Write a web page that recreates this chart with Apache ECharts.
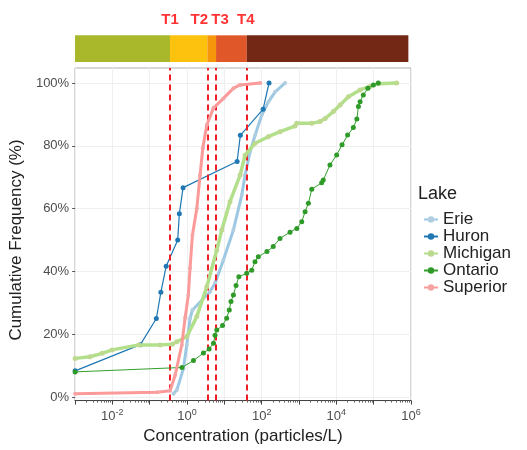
<!DOCTYPE html>
<html><head><meta charset="utf-8">
<script src="https://cdn.jsdelivr.net/npm/echarts@6/dist/echarts.min.js"></script>
<style>html,body{margin:0;padding:0;background:#fff}#c{width:527px;height:450px}</style>
</head><body><div id="c"></div>
<script>
// ---- data (concentration in particles/L, cumulative frequency in %) ----
const LAKES = ['Erie', 'Huron', 'Michigan', 'Ontario', 'Superior'];
const LAKE_COLORS = ['#9DC8E4', '#1F78B4', '#B2DF8A', '#33A02C', '#FB9A99'];

const ERIE = [[0.43,1],[0.53,2.2],[0.8,9.1],[0.98,16.6],[1.2,25],[1.39,27.7],[4.13,33.5],[5.6,36.2],
  [9.4,43.6],[17.4,53.2],[29.2,64.3],[35.8,70.7],[48.7,78.1],[66.5,83.4],[100,89.8],[151,94],[229,97.2],[422,100]];
const HURON = [[0.001,8.33],[0.056,16.67],[0.15,25],[0.198,33.33],[0.275,41.67],[0.56,50],[0.62,58.33],
  [0.78,66.67],[21.9,75],[26.7,83.33],[109,91.67],[157,100]];
const MICHIGAN = [[0.001,12.3],[0.0025,12.8],[0.0053,13.9],[0.0098,15],[0.051,16.6],[0.19,16.6],[0.4,16.8],
  [0.53,17.6],[0.98,19.2],[1.82,25.6],[3.37,35.1],[6.25,46.8],[8.5,53.2],[14.1,62.2],[26.4,70.7],[35.8,77],
  [66,80.8],[150,82.9],[310,84.5],[780,86.3],[870,87.2],[2190,87.2],[3630,87.7],[5000,88.7],[8330,90.9],
  [12600,93],[21000,95.6],[43000,97.8],[80000,98.9],[133000,99.8],[414000,100]];
const ONTARIO = [[0.001,8],[0.73,9.4],[1.48,11.6],[2.74,14],[3.9,15.3],[5.1,17.1],[5.6,19.7],[6.25,21.3],
  [8.9,22.8],[11.5,25.1],[13.5,27.7],[15,30.4],[17.4,32.5],[20.5,35.5],[24.4,38.3],[39.6,39.4],[54,40.4],
  [66,43.1],[81,44.7],[138,46.3],[203,47.9],[309,50.5],[573,52.5],[870,53.7],[1180,55.8],[1450,59],
  [1780,61.7],[2190,66.2],[4040,68.2],[4460,69.1],[6730,73.9],[10200,77.1],[14200,80.3],[20000,83.4],
  [28500,85.8],[35400,88.5],[39000,92.5],[43200,94],[52800,96.2],[70000,98.3],[98000,99.4],[133000,100]];
const SUPERIOR = [[0.001,1],[0.16,1.5],[0.35,2],[0.48,7],[0.72,16.6],[0.885,25.2],[1.08,32.5],[1.2,41],
  [1.39,51.6],[1.82,60],[2.23,70.7],[2.63,79.2],[3.37,86.6],[5.07,92],[9.4,95.1],[17.4,98.3],[26,99.4],[91,100]];
const LAKE_DATA = [ERIE, HURON, MICHIGAN, ONTARIO, SUPERIOR];

const THRESHOLDS = [0.35, 3.5, 6, 40];
const THRESHOLD_LABELS = ['T1', 'T2', 'T3', 'T4'];
const BAR_COLORS = ['#A8B82A', '#FDC20E', '#F6960B', '#E0572A', '#732815'];

const X_MIN = 0.001, X_MAX = 1e6, BAR_END = 850000;
const X_LABEL_VALUES = [0.01, 1, 100, 1e4, 1e6];
const Y_TICKS = [0, 20, 40, 60, 80, 100];

// ---- derived helpers ----
const DECADES = [];
for (let e = -3; e <= 6; e++) DECADES.push(Math.pow(10, e));
const MINOR = [];
for (let e = -3; e < 6; e++) for (let k = 2; k <= 9; k++) MINOR.push(k * Math.pow(10, e));
const barEdges = [X_MIN].concat(THRESHOLDS, [BAR_END]);
const FONT = 'Liberation Sans, Arial, sans-serif';

const lakeStyles = [
  {lw: 3, ss: 4, sc: '#B0CEE0'},
  {lw: 1.2, ss: 5, sc: '#1F78B4'},
  {lw: 3.5, ss: 5, sc: '#BDD98F'},
  {lw: 1, ss: 5, sc: '#2E9A28'},
  {lw: 3, ss: 4, sc: '#F6A3A3'}
];

const series = LAKES.map((name, i) => ({
  name, type: 'line', xAxisIndex: 0, yAxisIndex: 0,
  data: LAKE_DATA[i], symbol: 'circle', symbolSize: lakeStyles[i].ss, showSymbol: true,
  lineStyle: {color: LAKE_COLORS[i], width: lakeStyles[i].lw},
  itemStyle: {color: lakeStyles[i].sc},
  color: LAKE_COLORS[i], z: 3 + i, clip: false
}));

series.push({
  name: 'thresholds', type: 'line', xAxisIndex: 1, yAxisIndex: 1, data: [], z: 20,
  markLine: {silent: true, symbol: 'none', animation: false,
    lineStyle: {color: '#EE1C25', type: [6, 4], width: 2},
    label: {show: false},
    data: THRESHOLDS.map(t => ({xAxis: t}))}
});
series.push({
  name: 'bar', type: 'line', xAxisIndex: 3, yAxisIndex: 2, data: [],
  markArea: {silent: true,
    data: BAR_COLORS.map((c, i) => [
      {xAxis: barEdges[i], yAxis: 0, itemStyle: {color: c, opacity: 1}},
      {xAxis: barEdges[i + 1], yAxis: 0.494}])}
});
const labelOffsets = [0, -8, 4, -1];
series.push({
  name: 'tlabels', type: 'scatter', xAxisIndex: 3, yAxisIndex: 2, symbolSize: 0,
  data: THRESHOLDS.map((t, i) => ({value: [t, 0.78], name: THRESHOLD_LABELS[i],
    label: {offset: [labelOffsets[i], 0]}})),
  label: {show: true, position: 'inside', formatter: p => p.name, color: '#FF0000',
    fontWeight: 'bold', fontSize: 15, fontFamily: FONT}
});

const option = {
  animation: false,
  backgroundColor: '#fff',
  textStyle: {fontFamily: FONT},
  title: {text: 'Lake', left: 413, top: 180, textStyle: {fontSize: 18, fontWeight: 'normal', color: '#222', fontFamily: FONT}},
  legend: {
    data: LAKES, orient: 'vertical', left: 418, top: 206, itemWidth: 14, itemHeight: 8, itemGap: 0,
    textStyle: {fontSize: 17, lineHeight: 15.5, color: '#222', fontFamily: FONT}
  },
  grid: [
    {left: 75, right: 116, top: 83, bottom: 53},
    {left: 75, right: 116, top: 68, bottom: 42, show: true, borderColor: '#B0B0B0', borderWidth: 1, backgroundColor: 'transparent'},
    {left: 75, right: 116, top: 8, height: 54}
  ],
  xAxis: [
    {type: 'log', gridIndex: 0, min: X_MIN, max: X_MAX, show: false},
    {type: 'log', gridIndex: 1, min: X_MIN, max: X_MAX,
      name: 'Concentration (particles/L)', nameLocation: 'middle', nameGap: 27,
      nameTextStyle: {fontSize: 17, color: '#222', fontFamily: FONT},
      axisLine: {show: true, lineStyle: {color: '#444'}},
      axisTick: {show: true, customValues: DECADES, length: 4, lineStyle: {color: '#444'}},
      splitLine: {show: true, lineStyle: {color: '#EFEFEF'}},
      axisLabel: {customValues: X_LABEL_VALUES, margin: 7, color: '#4D4D4D',
        formatter: v => '{b|10}{s|' + Math.round(Math.log10(v)) + '}',
        rich: {b: {fontSize: 13, color: '#4D4D4D', fontFamily: FONT},
               s: {fontSize: 9, color: '#4D4D4D', padding: [0, 0, 9, 0], fontFamily: FONT}}}},
    {type: 'log', gridIndex: 1, min: X_MIN, max: X_MAX, position: 'bottom',
      axisLine: {show: false}, axisLabel: {show: false}, splitLine: {show: false},
      axisTick: {show: true, customValues: MINOR, length: 2, lineStyle: {color: '#666'}}},
    {type: 'log', gridIndex: 2, min: X_MIN, max: X_MAX, show: false}
  ],
  yAxis: [
    {type: 'value', gridIndex: 0, min: 0, max: 100, interval: 20,
      name: 'Cumulative Frequency (%)', nameLocation: 'middle', nameGap: 47,
      nameTextStyle: {fontSize: 17, color: '#222', fontFamily: FONT},
      axisLine: {show: false},
      axisTick: {show: true, length: 3, lineStyle: {color: '#555'}},
      axisLabel: {formatter: v => v + '%', fontSize: 13, color: '#4D4D4D', margin: 6},
      splitLine: {show: true, lineStyle: {color: '#EFEFEF'}}},
    {type: 'value', gridIndex: 1, min: 0, max: 1, show: false},
    {type: 'value', gridIndex: 2, min: 0, max: 1, show: false}
  ],
  series
};
const chart = echarts.init(document.getElementById('c'), null, {renderer: 'canvas'});
chart.setOption(option);
</script>
</body></html>
